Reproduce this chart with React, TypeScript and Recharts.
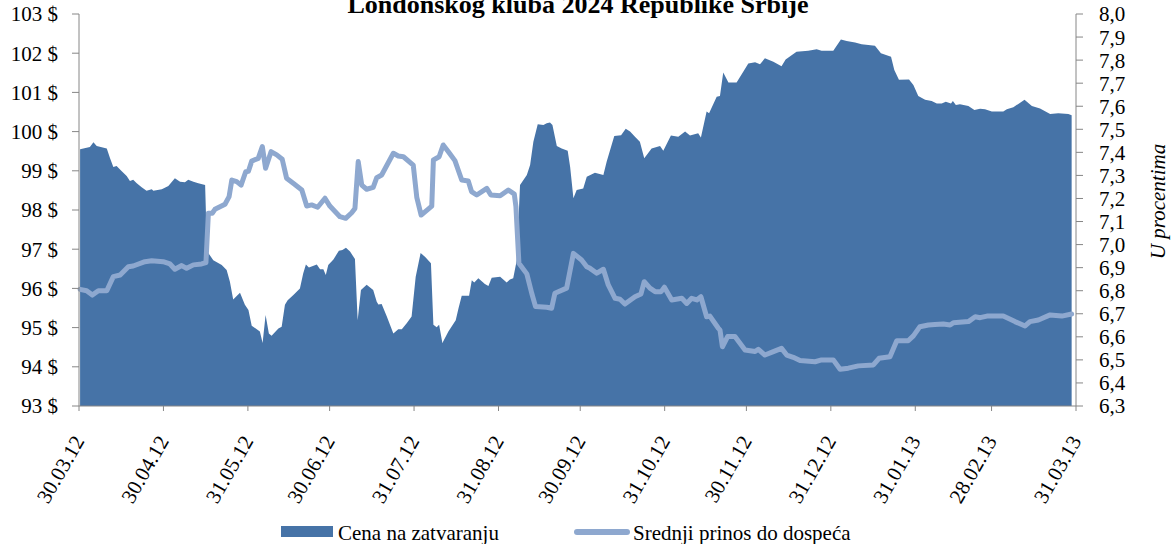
import React from "react";
import { Area, ComposedChart, Line, XAxis, YAxis } from "recharts";

// x position = days since 30.03.12
const tickDays = [0, 31, 62, 92, 123, 154, 184, 215, 245, 276, 307, 335, 366];
const tickLabels = ["30.03.12", "30.04.12", "31.05.12", "30.06.12", "31.07.12", "31.08.12", "30.09.12", "31.10.12", "30.11.12", "31.12.12", "31.01.13", "28.02.13", "31.03.13"];

const priceTicks = [93, 94, 95, 96, 97, 98, 99, 100, 101, 102, 103];
const yieldTicks = [6.3, 6.4, 6.5, 6.6, 6.7, 6.8, 6.9, 7.0, 7.1, 7.2, 7.3, 7.4, 7.5, 7.6, 7.7, 7.8, 7.9, 8.0];

// Cena na zatvaranju ($)
const priceDays = [
  0.4, 4.0, 5.3, 6.5, 10.2, 11.4, 12.6, 13.8, 15.7, 17.5, 18.7, 19.9, 21.2, 23.0, 24.8, 26.7, 27.3, 30.4, 32.8, 35.2,
  37.1, 38.9, 40.1, 42.0, 43.8, 46.3, 47.0, 49.3, 52.4, 54.2, 55.4, 56.6, 59.1, 60.9, 62.2, 63.4, 66.4, 67.4, 68.5, 69.7,
  70.7, 73.2, 74.4, 75.6, 76.6, 78.7, 81.1, 82.3, 83.3, 84.4, 87.3, 88.5, 89.7, 90.6, 91.5, 93.4, 95.4, 96.7, 98.0, 99.5,
  101.3, 102.3, 103.5, 105.6, 108.0, 109.3, 109.9, 111.1, 113.0, 115.4, 117.2, 118.5, 120.3, 122.1, 123.6, 125.4, 127.0, 129.2, 130.1, 131.3,
  132.2, 133.4, 135.6, 138.3, 139.3, 140.5, 143.2, 144.2, 145.1, 146.6, 149.0, 150.3, 151.5, 154.6, 157.0, 158.2, 159.4, 160.7, 161.9, 164.4,
  165.6, 166.8, 168.4, 170.5, 171.7, 172.9, 173.8, 175.4, 177.2, 179.4, 180.3, 181.5, 182.7, 185.1, 186.4, 189.4, 192.5, 193.7, 196.5, 199.0,
  200.7, 202.3, 204.1, 205.9, 207.5, 210.2, 213.3, 214.5, 217.3, 220.0, 222.5, 224.3, 227.3, 228.3, 230.4, 231.3, 234.1, 235.3, 236.5, 238.4,
  241.4, 243.9, 245.7, 248.2, 250.0, 251.8, 254.9, 257.9, 259.4, 263.4, 267.7, 270.8, 272.6, 276.9, 279.7, 281.8, 284.9, 287.3, 292.2, 294.4,
  298.1, 299.3, 301.0, 304.7, 306.3, 308.1, 310.6, 313.0, 314.9, 316.7, 318.2, 320.1, 320.8, 321.9, 323.4, 326.5, 328.7, 330.8, 332.6, 335.1,
  339.3, 340.6, 343.0, 345.1, 347.1, 349.8, 352.8, 356.5, 359.5, 363.2, 364.4,
];
const priceValues = [
  99.55, 99.61, 99.73, 99.63, 99.57, 99.32, 99.10, 99.12, 98.99, 98.87, 98.74, 98.77, 98.68, 98.58, 98.49, 98.53, 98.49, 98.53, 98.61, 98.81,
  98.72, 98.71, 98.77, 98.72, 98.68, 98.64, 96.95, 96.72, 96.60, 96.47, 96.17, 95.72, 95.89, 95.58, 95.45, 95.05, 94.90, 94.61, 95.32, 94.85,
  94.79, 94.98, 95.02, 95.58, 95.70, 95.83, 96.00, 96.38, 96.61, 96.53, 96.61, 96.49, 96.49, 96.34, 96.60, 96.74, 96.96, 96.98, 97.04, 96.94,
  96.75, 95.19, 95.96, 96.09, 95.96, 95.66, 95.59, 95.60, 95.28, 94.85, 94.96, 94.96, 95.11, 95.28, 96.30, 96.90, 96.81, 96.64, 95.07, 95.01,
  95.07, 94.61, 94.90, 95.19, 95.49, 95.81, 95.81, 96.21, 96.15, 96.26, 96.11, 96.06, 96.27, 96.30, 96.15, 96.23, 96.26, 96.72, 98.64, 98.89,
  99.15, 99.74, 100.19, 100.17, 100.21, 100.23, 100.17, 99.63, 99.57, 99.51, 99.10, 98.30, 98.51, 98.55, 98.85, 98.95, 98.89, 99.23, 99.89, 99.91,
  100.07, 100.00, 99.87, 99.74, 99.32, 99.57, 99.63, 99.51, 99.90, 99.87, 100.00, 99.90, 99.96, 99.85, 100.51, 100.47, 100.89, 100.91, 101.51, 101.25,
  101.25, 101.53, 101.74, 101.77, 101.72, 101.87, 101.78, 101.67, 101.84, 102.04, 102.06, 102.10, 102.06, 102.06, 102.35, 102.31, 102.27, 102.23, 102.19, 102.00,
  101.91, 101.57, 101.32, 101.33, 101.19, 100.91, 100.81, 100.78, 100.72, 100.72, 100.76, 100.72, 100.78, 100.68, 100.70, 100.65, 100.55, 100.58, 100.57, 100.51,
  100.51, 100.57, 100.62, 100.72, 100.81, 100.65, 100.59, 100.45, 100.47, 100.45, 100.42,
];

// Srednji prinos do dospeća (%)
const yieldDays = [
  0.4, 2.8, 4.9, 7.1, 10.2, 12.6, 15.1, 18.1, 19.9, 24.2, 26.7, 30.9, 33.4, 35.2, 37.7, 39.5, 42.0, 45.0, 46.6, 47.5,
  48.9, 49.9, 53.6, 55.1, 56.1, 57.9, 59.5, 61.2, 62.2, 63.4, 65.8, 67.3, 68.5, 70.5, 72.6, 74.6, 76.2, 79.0, 81.8, 83.6,
  85.4, 87.6, 90.3, 92.1, 95.8, 97.9, 100.1, 101.3, 102.5, 103.8, 105.6, 108.0, 109.3, 111.1, 115.4, 117.2, 119.1, 122.7, 124.0, 125.6,
  129.5, 130.1, 132.2, 133.7, 135.6, 138.0, 140.5, 142.9, 144.1, 146.0, 149.7, 151.2, 154.6, 157.6, 159.8, 160.4, 161.5, 164.4, 166.2, 167.6,
  171.7, 173.5, 174.7, 179.0, 181.5, 184.5, 186.4, 187.6, 190.1, 192.5, 194.3, 196.8, 198.6, 200.4, 204.1, 206.3, 207.5, 209.6, 211.5, 213.7,
  214.9, 217.6, 221.3, 223.1, 224.9, 226.8, 228.3, 230.4, 231.6, 234.7, 235.3, 236.2, 238.1, 240.8, 244.5, 248.2, 249.4, 251.8, 254.9, 257.9,
  259.8, 262.2, 264.7, 270.2, 272.6, 276.9, 279.4, 282.4, 286.1, 291.6, 293.7, 297.7, 300.2, 304.4, 306.3, 308.7, 311.8, 314.2, 317.3, 319.8,
  321.0, 326.5, 329.0, 330.8, 333.3, 339.3, 343.6, 347.3, 349.1, 352.2, 356.5, 360.8, 364.4,
];
const yieldValues = [
  6.806, 6.8, 6.781, 6.8, 6.8, 6.861, 6.868, 6.904, 6.907, 6.926, 6.93, 6.926, 6.916, 6.893, 6.909, 6.897, 6.912, 6.916, 6.922, 7.136,
  7.136, 7.153, 7.175, 7.208, 7.28, 7.273, 7.258, 7.316, 7.318, 7.362, 7.374, 7.425, 7.331, 7.403, 7.389, 7.37, 7.288, 7.263, 7.237, 7.167,
  7.172, 7.162, 7.201, 7.167, 7.121, 7.114, 7.138, 7.157, 7.36, 7.258, 7.24, 7.248, 7.29, 7.302, 7.396, 7.384, 7.381, 7.345, 7.205, 7.128,
  7.167, 7.367, 7.381, 7.432, 7.403, 7.364, 7.28, 7.276, 7.23, 7.215, 7.244, 7.215, 7.212, 7.237, 7.219, 7.164, 6.919, 6.873, 6.789, 6.731,
  6.728, 6.724, 6.789, 6.811, 6.962, 6.933, 6.904, 6.897, 6.876, 6.893, 6.825, 6.767, 6.763, 6.742, 6.774, 6.786, 6.839, 6.811, 6.796, 6.796,
  6.815, 6.76, 6.767, 6.745, 6.767, 6.76, 6.774, 6.687, 6.69, 6.637, 6.63, 6.557, 6.601, 6.601, 6.543, 6.536, 6.546, 6.521, 6.536, 6.55,
  6.521, 6.511, 6.497, 6.492, 6.5, 6.5, 6.459, 6.464, 6.474, 6.478, 6.507, 6.514, 6.583, 6.583, 6.604, 6.644, 6.651, 6.653, 6.656, 6.651,
  6.661, 6.666, 6.687, 6.683, 6.69, 6.69, 6.666, 6.647, 6.666, 6.673, 6.695, 6.69, 6.699,
];

type Row = { day: number; price?: number; yld?: number };

const byDay = new Map<number, Row>();
priceDays.forEach((d, i) => byDay.set(d, { ...(byDay.get(d) || { day: d }), price: priceValues[i] }));
yieldDays.forEach((d, i) => byDay.set(d, { ...(byDay.get(d) || { day: d }), yld: yieldValues[i] }));
const data = Array.from(byDay.values()).sort((a, b) => a.day - b.day);

const AREA = "#4673a7";
const LINE = "#8ea8cf";
const AXIS = "#868686";
const FONT = "'Liberation Serif', 'Times New Roman', serif";

const DateTick = ({ x, y, payload }: any) => {
  const i = tickDays.indexOf(payload.value);
  const ax = x + 6;
  const ay = y + 28;
  return (
    <text x={ax} y={ay} transform={`rotate(-60 ${ax} ${ay})`} textAnchor="end" fontSize={21} fontFamily={FONT} fill="#000">
      {tickLabels[i]}
    </text>
  );
};

export default function App() {
  return (
    <div style={{ position: "absolute", left: 0, top: 0, width: 1175, height: 544, background: "#fff" }}>
      <ComposedChart width={1175} height={544} data={data} margin={{ top: 14, right: 0, bottom: 0, left: 0 }}>
        <XAxis
          dataKey="day"
          type="number"
          domain={[0, 366]}
          ticks={tickDays}
          interval={0}
          height={138}
          stroke={AXIS}
          tickLine={{ stroke: AXIS }}
          tickSize={5}
          tick={<DateTick />}
        />
        <YAxis
          yAxisId="price"
          orientation="left"
          domain={[93, 103]}
          ticks={priceTicks}
          interval={0}
          width={79}
          stroke={AXIS}
          tickSize={7}
          tickMargin={14}
          tickFormatter={(v: number) => `${v} $`}
          tick={{ fill: "#000", fontSize: 21, fontFamily: FONT }}
        />
        <YAxis
          yAxisId="yield"
          orientation="right"
          domain={[6.3, 8.0]}
          ticks={yieldTicks}
          interval={0}
          width={99}
          stroke={AXIS}
          tickSize={7}
          tickMargin={16}
          tickFormatter={(v: number) => v.toFixed(1).replace(".", ",")}
          tick={{ fill: "#000", fontSize: 21, fontFamily: FONT }}
        />
        <Area
          yAxisId="price"
          dataKey="price"
          type="linear"
          fill={AREA}
          fillOpacity={1}
          stroke="none"
          connectNulls
          isAnimationActive={false}
          dot={false}
          activeDot={false}
        />
        <Line
          yAxisId="yield"
          dataKey="yld"
          type="linear"
          stroke={LINE}
          strokeWidth={5}
          strokeLinejoin="round"
          strokeLinecap="round"
          connectNulls
          isAnimationActive={false}
          dot={false}
          activeDot={false}
        />
      </ComposedChart>
      <svg width={1175} height={544} style={{ position: "absolute", left: 0, top: 0, pointerEvents: "none" }} fontFamily={FONT}>
        <text x={578} y={12.5} textAnchor="middle" fontSize={26} fontWeight="bold" fill="#000">
          Londonskog kluba 2024 Republike Srbije
        </text>
        <text transform="translate(1165 201.5) rotate(-90)" textAnchor="middle" fontSize={21} fontStyle="italic" fill="#000">
          U procentima
        </text>
        <rect x={281} y={526} width={52} height={11} fill={AREA} />
        <text x={338} y={540} fontSize={21} fill="#000">
          Cena na zatvaranju
        </text>
        <line x1={577} y1={532} x2={627} y2={532} stroke={LINE} strokeWidth={6} strokeLinecap="round" />
        <text x={633} y={540} fontSize={21} fill="#000">
          Srednji prinos do dospeća
        </text>
      </svg>
    </div>
  );
}
